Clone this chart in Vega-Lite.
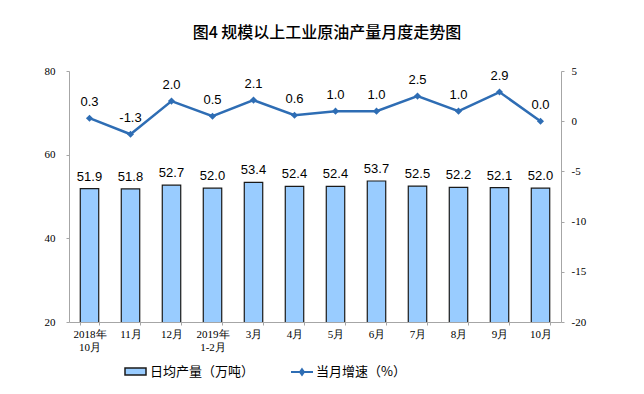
{
  "$schema": "https://vega.github.io/schema/vega-lite/v6.json",
  "width": 492,
  "height": 251,
  "autosize": {"type": "none"},
  "padding": {"left": 69, "top": 71, "right": 83, "bottom": 72},
  "background": "white",
  "config": {
    "view": {"stroke": null},
    "locale": {"number": {"decimal": ".", "thousands": ",", "grouping": [3], "currency": ["", ""], "minus": "-"}}
  },
  "title": {
    "text": "图4  规模以上工业原油产量月度走势图",
    "anchor": "middle",
    "frame": "group",
    "offset": 24,
    "dx": 12,
    "fontSize": 16,
    "font": "Noto Sans CJK SC",
    "fontWeight": 500,
    "color": "#000000"
  },
  "data": {
    "values": [
      {"m": "2018年|10月", "v": 51.9, "g": 0.3},
      {"m": "11月", "v": 51.8, "g": -1.3},
      {"m": "12月", "v": 52.7, "g": 2.0},
      {"m": "2019年|1-2月", "v": 52.0, "g": 0.5},
      {"m": "3月", "v": 53.4, "g": 2.1},
      {"m": "4月", "v": 52.4, "g": 0.6},
      {"m": "5月", "v": 52.4, "g": 1.0},
      {"m": "6月", "v": 53.7, "g": 1.0},
      {"m": "7月", "v": 52.5, "g": 2.5},
      {"m": "8月", "v": 52.2, "g": 1.0},
      {"m": "9月", "v": 52.1, "g": 2.9},
      {"m": "10月", "v": 52.0, "g": 0.0}
    ]
  },
  "encoding": {
    "x": {
      "field": "m",
      "type": "nominal",
      "sort": null,
      "scale": {"paddingInner": 0.55, "paddingOuter": 0.275},
      "axis": {
        "title": null,
        "labelAngle": 0,
        "labelExpr": "split(datum.label, '|')",
        "labelOverlap": false,
        "labelFont": "Liberation Serif",
        "labelFontSize": 11,
        "labelColor": "#000000",
        "labelLineHeight": 13,
        "labelPadding": 3,
        "labelBaseline": "top",
        "domainColor": "#A6A6A6",
        "ticks": true,
        "tickBand": "extent",
        "tickSize": 3,
        "tickColor": "#A6A6A6",
        "grid": false
      }
    }
  },
  "layer": [
    {
      "encoding": {
        "y": {
          "field": "v",
          "type": "quantitative",
          "scale": {"domain": [20, 80], "nice": false, "zero": false},
          "axis": {
            "orient": "left",
            "title": null,
            "values": [20, 40, 60, 80],
            "grid": false,
            "labelFont": "Liberation Serif",
            "labelFontSize": 11,
            "labelColor": "#000000",
            "labelPadding": 11,
            "domainColor": "#A6A6A6",
            "tickColor": "#A6A6A6",
            "tickSize": 3
          }
        }
      },
      "layer": [
        {
          "mark": {"type": "bar", "stroke": "#1a1a1a", "strokeWidth": 1.2, "clip": true},
          "encoding": {
            "fill": {
              "datum": "日均产量（万吨）",
              "type": "nominal",
              "scale": {"range": ["#99CCFF"]},
              "legend": {
                "title": null,
                "orient": "none",
                "legendX": 55,
                "legendY": 289,
                "symbolType": "M-1,-0.33H1V0.33H-1Z",
                "symbolSize": 441,
                "symbolStrokeColor": "#1a1a1a",
                "symbolStrokeWidth": 1.5,
                "labelFont": "Noto Sans CJK SC",
                "labelFontSize": 13,
                "labelColor": "#000000",
                "labelOffset": 3,
                "padding": 0
              }
            }
          }
        },
        {
          "mark": {"type": "text", "baseline": "bottom", "dy": -5, "font": "Liberation Sans", "fontSize": 13, "color": "#000000"},
          "encoding": {"text": {"field": "v", "type": "quantitative", "format": ".1f"}}
        }
      ]
    },
    {
      "encoding": {
        "y": {
          "field": "g",
          "type": "quantitative",
          "scale": {"domain": [-20, 5], "nice": false, "zero": false},
          "axis": {
            "orient": "right",
            "title": null,
            "values": [-20, -15, -10, -5, 0, 5],
            "labelExpr": "'' + datum.value",
            "grid": false,
            "labelFont": "Liberation Serif",
            "labelFontSize": 11,
            "labelColor": "#000000",
            "labelPadding": 7,
            "domainColor": "#A6A6A6",
            "tickColor": "#A6A6A6",
            "tickSize": 3
          }
        }
      },
      "layer": [
        {
          "mark": {"type": "line", "strokeWidth": 2.5},
          "encoding": {
            "stroke": {
              "datum": "当月增速（%）",
              "type": "nominal",
              "scale": {"range": ["#2E6DB4"]},
              "legend": {
                "title": null,
                "orient": "none",
                "legendX": 221,
                "legendY": 289,
                "symbolType": "M-1,0H1M0,-0.25L0.18,0L0,0.25L-0.18,0Z",
                "symbolSize": 484,
                "symbolStrokeWidth": 2,
                "labelFont": "Noto Sans CJK SC",
                "labelFontSize": 13,
                "labelColor": "#000000",
                "labelOffset": 2,
                "padding": 0,
                "encode": {"symbols": {"update": {"fill": {"value": "#2E6DB4"}}}}
              }
            }
          }
        },
        {
          "mark": {"type": "point", "shape": "diamond", "filled": true, "size": 50, "color": "#2E6DB4", "opacity": 1}
        },
        {
          "mark": {"type": "text", "baseline": "middle", "dy": -16, "font": "Liberation Sans", "fontSize": 13, "color": "#000000"},
          "encoding": {"text": {"field": "g", "type": "quantitative", "format": ".1f"}}
        }
      ]
    }
  ],
  "resolve": {"scale": {"y": "independent"}}
}
